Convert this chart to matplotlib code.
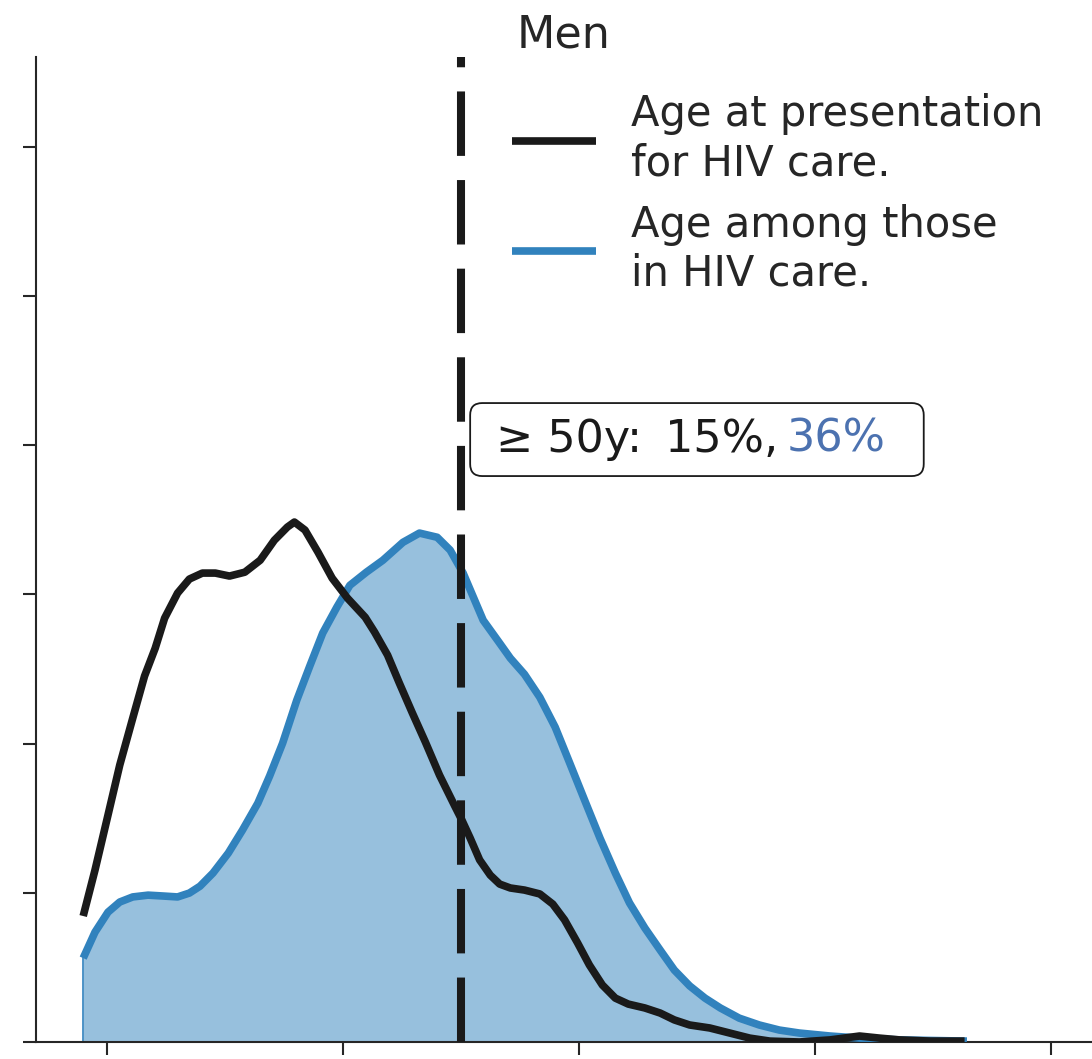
import matplotlib.pyplot as plt
from matplotlib.patches import FancyBboxPatch
from matplotlib.transforms import IdentityTransform

# density of age
present_age = [18.0, 19.0, 20.1, 21.1, 22.2, 23.2, 24.1, 24.9, 26.0, 27.0, 28.1, 29.2,
               30.4, 31.7, 33.0, 34.2, 35.3, 35.9, 36.8, 37.9, 39.1, 40.4, 41.9, 42.7,
               43.8, 44.8, 45.9, 47.0, 48.2, 49.5, 50.1, 50.8, 51.6, 52.5, 53.3, 54.2,
               55.4, 56.7, 57.8, 58.8, 59.9, 60.9, 62.0, 63.1, 64.2, 65.6, 66.9, 68.1,
               69.4, 71.1, 72.8, 74.5, 76.2, 78.7, 81.3, 83.8, 85.5, 87.2, 89.8, 92.7]
present_density = [0.00422, 0.00576, 0.00760, 0.00928, 0.01085, 0.01226, 0.01319, 0.01420,
                   0.01504, 0.01551, 0.01571, 0.01571, 0.01561, 0.01574, 0.01614, 0.01681,
                   0.01725, 0.01742, 0.01715, 0.01641, 0.01554, 0.01487, 0.01423, 0.01373,
                   0.01296, 0.01202, 0.01102, 0.01005, 0.00894, 0.00790, 0.00743, 0.00683,
                   0.00610, 0.00559, 0.00529, 0.00516, 0.00509, 0.00496, 0.00462, 0.00409,
                   0.00332, 0.00258, 0.00191, 0.00147, 0.00127, 0.00114, 0.00097, 0.00074,
                   0.00057, 0.00047, 0.00030, 0.00013, 0.00003, 0.00000, 0.00007, 0.00020,
                   0.00013, 0.00007, 0.00003, 0.00003]

care_age = [18.0, 19.0, 20.1, 21.1, 22.2, 23.5, 24.8, 26.0, 27.0, 27.9, 29.0, 30.3,
            31.5, 32.8, 33.8, 34.9, 36.1, 37.2, 38.3, 39.5, 40.6, 42.0, 43.4, 45.1,
            46.5, 48.0, 49.1, 50.2, 51.9, 53.3, 54.2, 55.4, 56.7, 58.0, 59.2, 60.5,
            61.8, 63.1, 64.3, 65.6, 66.9, 68.1, 69.4, 70.7, 72.0, 73.6, 75.3, 77.0,
            78.7, 81.3, 83.8, 87.2, 92.9]
care_density = [0.00281, 0.00368, 0.00435, 0.00469, 0.00486, 0.00492, 0.00489, 0.00486,
                0.00499, 0.00522, 0.00566, 0.00633, 0.00710, 0.00800, 0.00891, 0.01001,
                0.01145, 0.01259, 0.01370, 0.01457, 0.01530, 0.01574, 0.01614, 0.01674,
                0.01705, 0.01691, 0.01648, 0.01571, 0.01413, 0.01336, 0.01286, 0.01232,
                0.01155, 0.01055, 0.00938, 0.00810, 0.00683, 0.00566, 0.00466, 0.00382,
                0.00308, 0.00241, 0.00188, 0.00147, 0.00114, 0.00080, 0.00057, 0.00040,
                0.00030, 0.00020, 0.00013, 0.00007, 0.00003]

title = "Men"
present_label = "Age at presentation\nfor HIV care."
care_label = "Age among those\nin HIV care."
cutoff_age = 50
present_pct = "15%"
care_pct = "36%"
x_ticks = [20, 40, 60, 80, 100]
y_ticks = [0.0, 0.005, 0.010, 0.015, 0.020, 0.025, 0.030]

dark = '#1a1a1a'
text_col = '#262626'
blue = '#3182bd'

fig = plt.figure(figsize=(10.92, 10.59), dpi=100)
ax = fig.add_axes([36 / 1092, 17 / 1059, 1056 / 1092, 985 / 1059])

ax.fill_between(care_age, care_density, color=blue, alpha=0.5, lw=0, zorder=2)
ax.plot([care_age[0], care_age[0]], [0, care_density[0]], color=blue, lw=1.2, zorder=2)
ax.plot(care_age, care_density, color=blue, lw=5.5, solid_capstyle='butt',
        label=care_label, zorder=3)
ax.plot(present_age, present_density, color=dark, lw=5.5, solid_capstyle='butt',
        label=present_label, zorder=4)
ax.axvline(cutoff_age, color=dark, lw=5.8, dashes=(8, 3), zorder=5)

ax.set_xlim(14, 103.5)
ax.set_ylim(0, 0.033)
ax.set_xticks(x_ticks)
ax.set_yticks(y_ticks)
ax.tick_params(labelleft=False, labelbottom=False, length=9.5, width=1.5, color=text_col)
for side in ['top', 'right']:
    ax.spines[side].set_visible(False)
for side in ['left', 'bottom']:
    ax.spines[side].set_linewidth(1.5)
    ax.spines[side].set_color(text_col)

ax.set_title(title, fontsize=32, color=text_col, pad=7)

handles, labels = ax.get_legend_handles_labels()
leg = ax.legend(handles[::-1], labels[::-1], loc='upper left', bbox_to_anchor=(0.451, 0.963),
                frameon=False, fontsize=30, handlelength=2.0, handletextpad=0.85,
                labelspacing=0.47, borderpad=0, borderaxespad=0)
for t in leg.get_texts():
    t.set_color(text_col)

# annotation: black part, blue part, then a rounded box around both
tx, ty = 53.0, 0.0202
first = ax.text(tx, ty, f"\u2265 {cutoff_age}y: \u2009{present_pct},", color=dark,
                fontsize=32, va='center', ha='left', zorder=7)
second = ax.annotate(care_pct, xy=(1, 0), xycoords=first, xytext=(6, 0),
                     textcoords='offset points', va='bottom', ha='left',
                     fontsize=32, color='#4c72b0', zorder=7)

fig.canvas.draw()
renderer = fig.canvas.get_renderer()
b1 = first.get_window_extent(renderer)
b2 = second.get_window_extent(renderer)
yc = (b1.y0 + b1.y1) / 2
box = FancyBboxPatch((b1.x0 - 26, yc - 37), (b2.x1 + 38) - (b1.x0 - 26), 73,
                     boxstyle='round,pad=0,rounding_size=12', transform=IdentityTransform(),
                     fc='white', ec=dark, lw=1.3, zorder=6)
ax.add_patch(box)

fig.savefig('out.png', dpi=100)
